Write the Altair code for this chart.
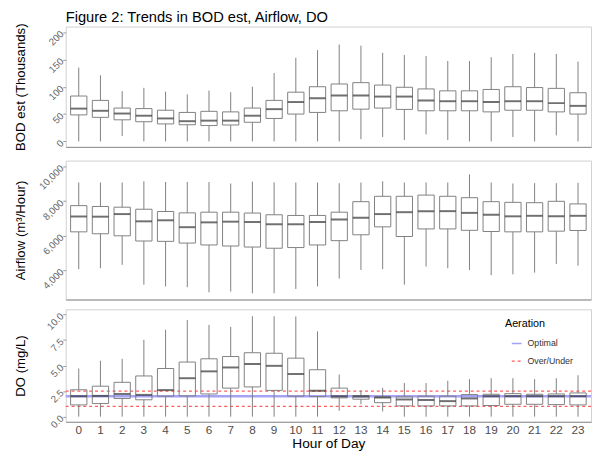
import altair as alt
import pandas as pd

HOURS = list(range(24))

# BOD est (thousands): whisker low, Q1, median, Q3, whisker high
BOD_LO = [0, 0, 10, 0, 0, 0, 0, 0, 0, 0, 0, 0, 0, 4, 8, 2.5, 13, 2.5, 0, 0, 8, 0, 11, 0]
BOD_Q1 = [48.5, 44, 39.5, 36, 32, 30.5, 29, 30, 35, 42, 50, 53, 56, 59, 61, 58.5, 56, 56, 56, 54, 57, 57, 54, 50]
BOD_MED = [60, 56, 51, 47, 42, 37, 38, 38, 47, 59, 72, 79, 84, 84, 82, 82, 75, 73.5, 73.5, 72, 73.5, 73.5, 70, 65]
BOD_Q3 = [83, 75, 61, 60, 57, 53, 55, 54, 61, 75, 90, 100, 105, 107.5, 103, 99, 96, 92.5, 92.5, 95, 100, 98.5, 97, 89]
BOD_HI = [135, 121, 92, 98, 91, 86, 93, 90, 100, 125, 153, 167, 177, 175, 162, 158, 156, 147, 147, 154, 160, 162, 160, 146]

# Airflow (m3/hour)
AIR_LO = [4050, 4100, 4300, 3150, 3050, 3000, 2700, 2750, 2650, 2650, 2900, 3050, 3500, 4000, 4050, 3150, 4200, 4100, 4000, 3700, 3750, 3850, 4350, 4250]
AIR_Q1 = [6210, 6100, 5980, 5680, 5660, 5560, 5450, 5390, 5330, 5260, 5300, 5450, 5700, 6040, 6500, 5940, 6380, 6380, 6300, 6230, 6210, 6210, 6250, 6290]
AIR_MED = [7100, 7090, 7240, 6820, 6880, 6480, 6760, 6800, 6780, 6650, 6650, 6780, 6930, 7030, 7240, 7350, 7410, 7410, 7310, 7200, 7110, 7140, 7120, 7140]
AIR_Q3 = [7730, 7680, 7640, 7520, 7390, 7310, 7350, 7350, 7300, 7200, 7160, 7160, 7350, 7960, 8270, 8270, 8340, 8270, 8190, 7960, 7920, 7900, 7980, 7830]
AIR_HI = [9070, 9070, 9070, 9140, 9100, 9100, 9100, 9010, 9120, 9080, 9070, 9070, 9030, 9070, 9140, 9070, 9070, 9070, 9540, 9070, 9010, 9030, 9030, 9050]

# DO (mg/L)
DO_LO = [0, 0, 0, 0, 0, 0, 0, 0, 0, 0, 0, 0, 0.58, 1.21, 0.52, 0, 0, 0, 0, 0, 0, 0, 0, 0]
DO_Q1 = [1.15, 1.28, 1.78, 1.65, 2.0, 2.03, 2.22, 2.79, 2.91, 2.57, 2.0, 1.97, 1.84, 1.71, 1.37, 1.05, 1.05, 1.05, 1.05, 1.09, 1.21, 1.21, 1.18, 1.15]
DO_MED = [2.0, 2.03, 2.22, 2.13, 2.6, 3.76, 4.43, 4.81, 5.15, 4.97, 4.17, 2.54, 2.0, 1.97, 1.87, 1.68, 1.62, 1.52, 1.78, 2.0, 2.0, 2.0, 2.0, 2.0]
DO_Q3 = [2.63, 2.98, 3.36, 3.98, 4.71, 5.34, 5.66, 5.88, 6.25, 6.2, 5.72, 4.59, 2.79, 2.06, 1.94, 1.94, 2.0, 2.0, 2.16, 2.19, 2.25, 2.19, 2.22, 2.32]
DO_HI = [4.71, 5.47, 5.66, 7.52, 8.5, 9.44, 8.97, 8.78, 9.82, 9.82, 9.8, 8.34, 4.12, 2.57, 2.82, 3.29, 3.29, 3.51, 3.67, 3.76, 3.76, 3.67, 3.76, 4.05]

AER_NAMES = ["Optimal", "Over/Under", "Over/Under"]
AER_VALUES = [2.0, 2.5, 1.0]

FONT = "Liberation Sans"
W = 537
H_TOP, H_MID, H_BOT = 123, 142, 115
BOXC = "#7f7f7f"
MEDC = "#333333"


def make_df(lo, q1, med, q3, hi):
    return pd.DataFrame({"hour": HOURS, "lo": lo, "q1": q1, "med": med, "q3": q3, "hi": hi})


XSCALE = alt.Scale(domain=HOURS, paddingInner=0.25, paddingOuter=0.225)


def x_axis(bottom):
    if bottom:
        return alt.Axis(title="Hour of Day", labelAngle=0, labelFontSize=12, labelColor="#4d4d4d",
                        labelFont=FONT, ticks=False, labelPadding=3, domainColor="#8c8c8c",
                        domainWidth=1, titleFont=FONT, titleFontSize=14, titleFontWeight="normal",
                        titleColor="black", titlePadding=1)
    return alt.Axis(title=None, labels=False, ticks=False, domainColor="#8c8c8c", domainWidth=1)


def y_axis(title, values, fmt, h):
    return alt.Axis(title=title, values=values, format=fmt, labelAngle=315, labelAlign="right",
                    labelBaseline="middle", labelFontSize=10, labelColor="#666666", labelFont=FONT,
                    labelPadding=1, tickColor="#999999", tickSize=3, domain=False, grid=False,
                    titleFont=FONT, titleFontSize=13.5, titleFontWeight="normal", titleColor="black",
                    titleX=-46, titleY=h / 2, titleAngle=270, titleAlign="center",
                    titleBaseline="middle")


def panel(df, title, dom, values, fmt, h, bottom=False, hlines=False):
    base = alt.Chart(df)
    x = alt.X("hour:O", scale=XSCALE, axis=x_axis(bottom))
    ys = alt.Scale(domain=dom, nice=False, zero=False)
    yax = y_axis(title, values, fmt, h)
    layers = []
    if hlines:
        aer_df = pd.DataFrame({"aer": AER_NAMES, "val": AER_VALUES})
        leg = alt.Legend(title="Aeration", orient="none", legendX=449, legendY=9.5,
                         symbolType="stroke", symbolSize=100, symbolStrokeWidth=1.5,
                         symbolOffset=6, labelOffset=5, rowPadding=7, titlePadding=8.5,
                         titleFontSize=11, titleFont=FONT, titleFontWeight="normal",
                         titleColor="black", labelFontSize=9, labelFont=FONT,
                         labelColor="#333333", padding=0)
        dom_a = ["Optimal", "Over/Under"]
        color = alt.Color("aer:N", scale=alt.Scale(domain=dom_a, range=["#a3a3f7", "#ff5c5c"]), legend=leg)
        dash = alt.StrokeDash("aer:N", scale=alt.Scale(domain=dom_a, range=[[1, 0], [3, 3]]), legend=leg)
        hb = alt.Chart(aer_df)
        opt = hb.transform_filter(alt.datum.aer == "Optimal").mark_rule(strokeWidth=2.5).encode(
            y=alt.Y("val:Q", scale=ys, axis=yax), color=color, strokeDash=dash)
        ou = hb.transform_filter(alt.datum.aer == "Over/Under").mark_rule(strokeWidth=1.2).encode(
            y=alt.Y("val:Q", scale=ys, axis=yax), color=color, strokeDash=dash)
        layers += [opt, ou]
    w1 = base.mark_rule(color=BOXC, strokeWidth=1).encode(
        x=x, y=alt.Y("lo:Q", scale=ys, axis=yax), y2="q1:Q")
    w2 = base.mark_rule(color=BOXC, strokeWidth=1).encode(
        x=x, y=alt.Y("q3:Q", scale=ys, axis=yax), y2="hi:Q")
    box = base.mark_bar(fillOpacity=0, stroke=BOXC, strokeWidth=1).encode(
        x=x, y=alt.Y("q1:Q", scale=ys, axis=yax), y2="q3:Q")
    med = base.mark_tick(color=MEDC, thickness=2).encode(
        x=x, y=alt.Y("med:Q", scale=ys, axis=yax))
    layers += [w1, w2, box, med]
    return alt.layer(*layers).properties(width=W, height=h)


top = panel(make_df(BOD_LO, BOD_Q1, BOD_MED, BOD_Q3, BOD_HI), "BOD est (Thousands)",
            [-10, 210], [0, 50, 100, 150, 200], "d", H_TOP)
mid = panel(make_df(AIR_LO, AIR_Q1, AIR_MED, AIR_Q3, AIR_HI), "Airflow (m³/Hour)",
            [2290, 10340], [4000, 6000, 8000, 10000], ",.0f", H_MID)
bot = panel(make_df(DO_LO, DO_Q1, DO_MED, DO_Q3, DO_HI), "DO (mg/L)",
            [-0.5, 10.5], [0, 2.5, 5, 7.5, 10], ".1f", H_BOT, bottom=True, hlines=True)

chart = alt.vconcat(top, mid, bot, spacing=8).resolve_scale(
    y="independent", color="independent", strokeDash="independent"
).properties(
    title=alt.TitleParams(text="Figure 2: Trends in BOD est, Airflow, DO", anchor="start",
                          frame="group", fontSize=15, font=FONT, fontWeight="normal",
                          color="black", offset=-3),
    padding={"left": 5, "top": -3, "right": 0, "bottom": 0},
    background="white",
).configure_view(stroke="#d0d0d0", strokeWidth=1)

chart.save("out.html", embed_options={"renderer": "svg", "actions": False})
